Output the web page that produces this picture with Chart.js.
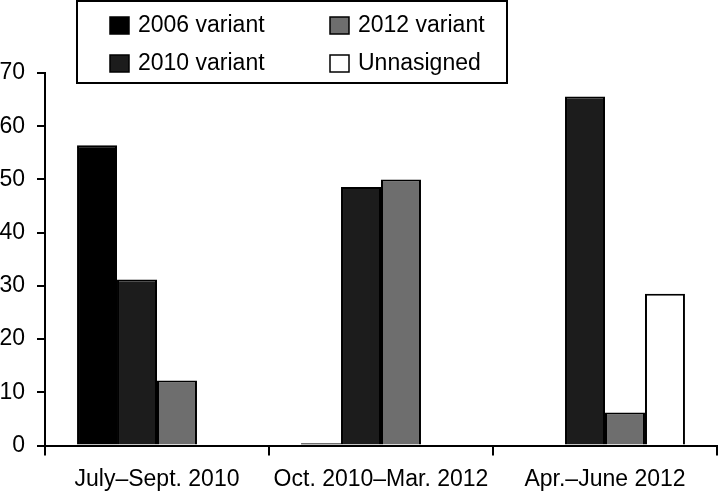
<!DOCTYPE html>
<html>
<head>
<meta charset="utf-8">
<script src="https://cdn.jsdelivr.net/npm/chart.js@4"></script>
<style>
  html, body { margin: 0; padding: 0; background: #fff; }
  #wrap { width: 718px; height: 492px; }
</style>
</head>
<body>
<div id="wrap"><canvas id="chart" width="718" height="492"></canvas></div>
<script>
const categories = ['July\u2013Sept. 2010', 'Oct. 2010\u2013Mar. 2012', 'Apr.\u2013June 2012'];
const variant2006 = [56.4, 0.4, 0];
const variant2010 = [31.2, 48.6, 65.6];
const variant2012 = [12.2, 50.0, 6.2];
const unassigned = [0, 0, 28.5];
const yTicks = [0, 10, 20, 30, 40, 50, 60, 70];

const FONT = 'Liberation Sans, Arial, sans-serif';

// boxed legend, two columns: 2006/2010 left, 2012/Unnasigned right
const boxLegend = {
  id: 'boxLegend',
  afterDraw(chart) {
    const ctx = chart.ctx;
    const ds = chart.data.datasets;
    const slots = [
      { i: 0, x: 110, y: 25 },
      { i: 1, x: 110, y: 63 },
      { i: 2, x: 330, y: 25 },
      { i: 3, x: 330, y: 63 }
    ];
    ctx.save();
    ctx.strokeStyle = '#000';
    ctx.lineWidth = 2;
    ctx.strokeRect(77, 1, 430, 82);
    ctx.font = '23px ' + FONT;
    ctx.textBaseline = 'middle';
    slots.forEach(s => {
      const d = ds[s.i];
      ctx.fillStyle = d.backgroundColor;
      ctx.fillRect(s.x, s.y - 8, 19, 17);
      ctx.lineWidth = 1.5;
      ctx.strokeStyle = '#000';
      ctx.strokeRect(s.x, s.y - 8, 19, 17);
      ctx.fillStyle = '#000';
      ctx.fillText(d.label, s.x + 28, s.y + 1);
    });
    ctx.restore();
  }
};

const mkSet = (label, data, color) => ({
  label: label,
  data: data,
  backgroundColor: color,
  borderColor: '#000',
  borderWidth: 2,
  borderSkipped: 'bottom',
  categoryPercentage: 0.714,
  barPercentage: 1.0
});

new Chart(document.getElementById('chart'), {
  type: 'bar',
  data: {
    labels: categories,
    datasets: [
      mkSet('2006 variant', variant2006, '#000000'),
      mkSet('2010 variant', variant2010, '#1c1c1c'),
      mkSet('2012 variant', variant2012, '#6e6e6e'),
      mkSet('Unnasigned', unassigned, '#ffffff')
    ]
  },
  options: {
    responsive: false,
    animation: false,
    layout: { padding: { top: 73, right: 1, bottom: 0, left: 0 } },
    plugins: {
      legend: { display: false },
      tooltip: { enabled: false }
    },
    scales: {
      x: {
        offset: true,
        afterFit: axis => { axis.height = 46.5; },
        grid: { display: true, offset: true, drawOnChartArea: false, drawTicks: true, tickLength: 10, color: '#000', lineWidth: 2 },
        border: { display: true, color: '#000', width: 2 },
        ticks: { color: '#000', font: { family: FONT, size: 23, lineHeight: 1.0 }, padding: 13, maxRotation: 0, autoSkip: false }
      },
      y: {
        min: 0,
        max: 70,
        afterFit: axis => { axis.width = 45; },
        afterBuildTicks: axis => { axis.ticks = yTicks.map(v => ({ value: v })); },
        grid: { display: true, drawOnChartArea: false, drawTicks: true, tickLength: 8, color: '#000', lineWidth: 2 },
        border: { display: true, color: '#000', width: 2 },
        ticks: { color: '#000', font: { family: FONT, size: 23 }, padding: 12 }
      }
    }
  },
  plugins: [boxLegend]
});
</script>
</body>
</html>
